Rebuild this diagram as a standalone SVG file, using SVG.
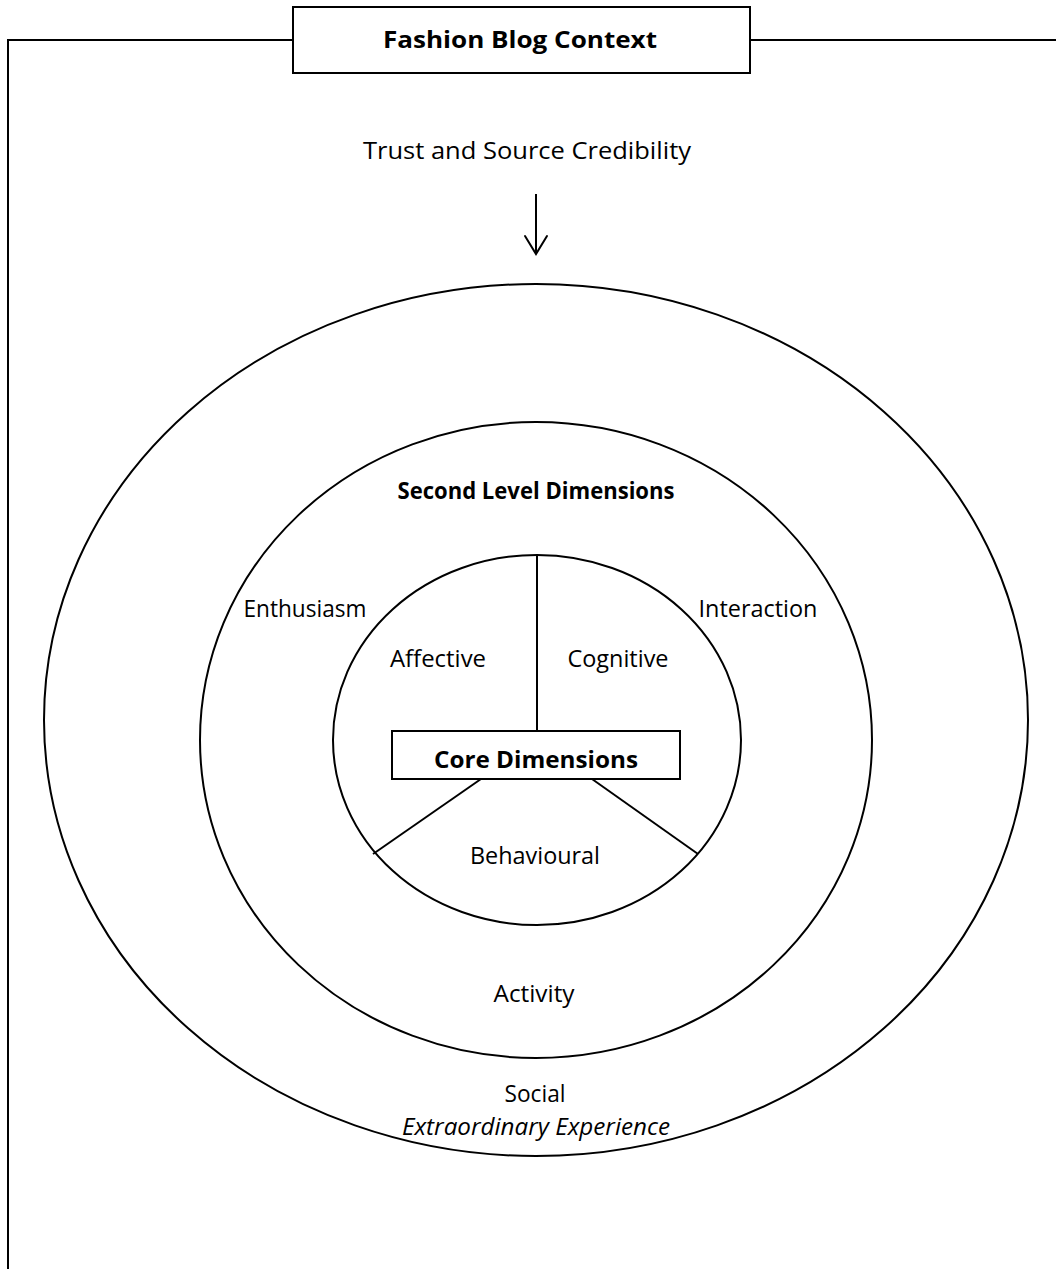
<svg xmlns="http://www.w3.org/2000/svg" width="1056" height="1269" viewBox="0 0 1056 1269">
<style>
.ln{fill:none;stroke:#000;stroke-width:2}
.t{font-family:"Open Sans","Liberation Sans",sans-serif;font-size:23.5px;fill:#000;text-anchor:middle}
.b{font-weight:bold}
.i{font-style:italic}
</style>
<rect width="1056" height="1269" fill="#fff"/>
<g id="frame">
<polyline class="ln" points="8,1275 8,40 293,40"/>
<line class="ln" x1="750" y1="40" x2="1060" y2="40"/>
</g>
<g id="title">
<rect class="ln" x="293" y="7" width="457" height="66" fill="#fff"/>
<text class="t b" x="520" y="48" font-size="29.5" textLength="274" lengthAdjust="spacingAndGlyphs">Fashion Blog Context</text>
</g>
<g id="trust">
<text class="t" x="527" y="159" font-size="26.5" textLength="328" lengthAdjust="spacingAndGlyphs">Trust and Source Credibility</text>
</g>
<g id="outer">
<ellipse class="ln" cx="536" cy="720" rx="492" ry="436"/>
<text class="t" x="535" y="1102" font-size="23" textLength="61" lengthAdjust="spacingAndGlyphs">Social</text>
<text class="t i" x="536" y="1135" font-size="24.5" textLength="268" lengthAdjust="spacingAndGlyphs">Extraordinary Experience</text>
</g>
<g id="middle">
<ellipse class="ln" cx="536" cy="740" rx="336" ry="318"/>
<text class="t b" x="536" y="499" font-size="19" textLength="277" lengthAdjust="spacingAndGlyphs">Second Level Dimensions</text>
<text class="t" x="305" y="617" font-size="22.2" textLength="123" lengthAdjust="spacingAndGlyphs">Enthusiasm</text>
<text class="t" x="758" y="617" textLength="119" lengthAdjust="spacingAndGlyphs">Interaction</text>
<text class="t" x="534" y="1002" font-size="25" textLength="81" lengthAdjust="spacingAndGlyphs">Activity</text>
</g>
<g id="inner">
<ellipse class="ln" cx="537" cy="740" rx="204" ry="185"/>
<text class="t" x="438" y="667" font-size="24" textLength="96" lengthAdjust="spacingAndGlyphs">Affective</text>
<text class="t" x="618" y="667" textLength="101" lengthAdjust="spacingAndGlyphs">Cognitive</text>
<text class="t" x="535" y="864" textLength="130" lengthAdjust="spacingAndGlyphs">Behavioural</text>
</g>
<g id="connectors">
<line class="ln" x1="537" y1="555" x2="537" y2="731"/>
<line class="ln" x1="481" y1="779" x2="373" y2="854"/>
<line class="ln" x1="592" y1="779" x2="698" y2="854"/>
<line class="ln" x1="536" y1="194" x2="536" y2="254"/>
<polyline class="ln" points="525,236 536,254 547,236" stroke-width="4" stroke-linejoin="miter" stroke-linecap="round"/>
</g>
<g id="core">
<rect class="ln" x="392" y="731" width="288" height="48" fill="#fff"/>
<text class="t b" x="536" y="768" font-size="27" textLength="204" lengthAdjust="spacingAndGlyphs">Core Dimensions</text>
</g>
</svg>
